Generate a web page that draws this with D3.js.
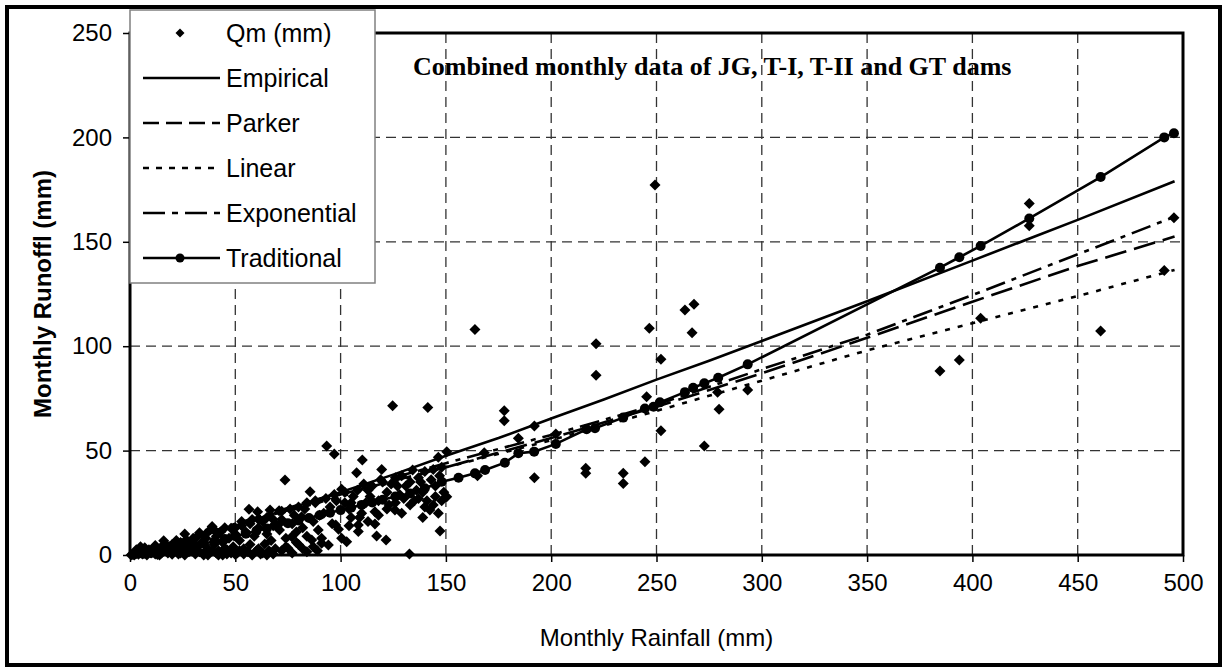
<!DOCTYPE html>
<html>
<head>
<meta charset="utf-8">
<script src="https://cdn.jsdelivr.net/npm/d3@7"></script>
<style>
  body { margin: 0; background: #fff; }
  text { font-family: Arial, "Liberation Sans", sans-serif; fill: #000; }
  .title { font-family: "Times New Roman", "Liberation Serif", serif; font-weight: bold; }
</style>
</head>
<body>
<div id="chart"></div>
<script>
// observed monthly rainfall / runoff pairs (Qm)
var obsRain = [0.5,1,2,3,4,5,6,7,8,9,10,3,5,7,
  11,12,13,14,15,16,17,18,19,20,12,14,
  21,22,23,24,25,26,27,28,29,30,22,
  31,32,33,34,35,36,37,38,39,40,35,
  41,42,43,44,45,46,47,48,49,50,42,
  51,52,53,54,55,56.5,57,58,59,60.6,60,
  61,62,63,64,65,66.5,67,68,69,70.8,65,
  71,72,73.6,74,75,76.8,77,78,79,80,
  81.5,82,83,84,85.5,86.3,87,88,89.4,90,
  91,91,92,93.4,94.2,95,96,97,97.7,98,99,100.5,100.5,
  102.9,104,105,107.6,108.4,108.4,110.3,112,114,116.3,116.3,117.1,119.5,121.6,122,124.7,125.8,127,130,132.7,
  134.2,136,138,140,141.4,142.4,144,146.4,146.4,147.2,148,150.4,150.4,149,
  102,106,110,113,118,120,123,128,131,135,139,143,145,147,
  2,4,6,8,10,13,15,18,20,24,26,29,31,33,37,39,41,44,46,48,50,52,54,56,58,61,63,66,68,72,74,77,79,82,84,87,89,
  12,17,22,27,31,36,41,45,50,53,57,61,65,68,72,76,80,84,88,93,97,102,105,108,111,115,119,124,126,129,133,137,140,144,148,
  104,109,113,118,122,126,129,133,137,141,145,139,
  163.8,168.2,165,177.7,177.7,184.4,192,192,202.2,
  216.4,216.4,221.3,221.3,234.2,234.2,244.5,245.3,246.6,249.3,252.1,252.1,263.5,266.9,267.8,272.7,279,279.7,293.3,
  384.6,393.8,403.9,427,427,460.9,491.1,495.7];
var obsRunoff = [0,0.2,0.5,1,0.3,1.5,2,0.8,1.2,2.5,1,2.5,4,3.5,
  2,0.5,3,1.5,4,6.8,2.5,1,3.5,5,4.5,0,
  2,4,0.5,6,3,10,7,1.5,5,8,7,
  2,4,10.7,6,1,8,3,12,13.6,5,0,
  9,2,11,6,3.2,0.5,8,12.8,4,10,0,
  1,7,14,3,11,21.9,5,17,9,20.7,2,
  13,0.5,16,5.3,10,21.6,7,14,3,21.2,0,
  12,17,35.9,8,3.2,8.8,15,19,11,5,
  18.3,13,22,9,30.3,7.2,16,25,12,19,
  5.6,8,20,52.2,4.8,23,15,48.4,14.4,26,12.3,31.5,8,
  6.4,22,18,39.4,14.4,11.2,45.5,25,28,20.7,14.8,9.1,41,7.2,30,71.5,21.6,33,27,0.5,
  40.7,31,35,23,70.7,21.6,24,46.8,20,11.5,26,49.5,27.9,30,
  25,28,20,31,26,35,24,29,33,26,30,36,33,38,
  0,1,0.5,0,2,0.2,1,2,0.3,1,0,2,0.5,1.5,0,2,1,0,2.5,1,0.2,2,0.5,1.5,0,3,1,2,0.5,2,4,1,6,3,1.5,4,2,
  3,5,5.5,7,8,10,11,13,13,16,15,17,18,17,21,22,23,25,26,27,29,30,25,31,34,33,36,34,37,38,35,37,40,41,42,
  14,18,16,19,22,25,20,24,27,26,28,18,
  108,49,38,69.1,64.3,55.9,61.8,37,58,
  41.5,39.1,101.2,86.1,39.1,34.3,44.7,75.8,108.6,177.2,93.7,59.5,117.3,106.5,120.1,52.2,77.9,69.8,79,
  88.1,93.4,113.4,168.4,157.7,107.3,136.2,161.5];

// fitted model curves
var empRain = [0,25,50,75,100,125,150,175,200,225,250,275,300,350,400,450,496];
var empRunoff = [0,6.5,14,22,30,38.5,47.5,56,65.4,74.5,84,93,102.5,121.5,141,160.5,179];

var parkerRain = [0,25,50,100,150,200,250,300,350,400,450,496];
var parkerRunoff = [0,6,14,29,42,56,71,87,104,121.3,138.4,152.5];

var linearRain = [0,50,100,150,200,250,300,350,400,450,496];
var linearRunoff = [1,14,28,42,55,69,83.5,98,111,124,136.5];

var expRain = [0,25,50,100,150,200,250,300,350,400,450,496];
var expRunoff = [0,6.5,15,30,44,57.5,72,89,105.5,124.5,144,162];

var tradRain = [2,6,10,15,20,25,30,35,40,45,50,55,60,65,70,75,80,85,90,95,100,105,110,115,120,126,133,140,148,156,163.8,168.6,178,184.4,191.9,202.2,216.8,220.8,234.2,244.5,248.6,251.6,263.5,267.4,272.7,279.3,293.3,384.6,393.8,403.9,427,460.9,491.1,495.7];
var tradRunoff = [0.2,0.6,1,1.7,2.5,3.5,4.5,5.5,6.5,7.7,9,10.2,11.5,12.7,14,15.2,16.5,17.7,19,20.2,21.5,22.7,24,25.2,26.5,28,29.5,32,35.1,37,39.1,40.7,44.2,48.7,49.5,53.2,60.2,60.7,65.8,70.2,71,73.1,78,80.1,82.2,84.9,91.3,137.6,142.6,148,161.2,181,200,202];

var xTicks = [0,50,100,150,200,250,300,350,400,450,500];
var yTicks = [0,50,100,150,200,250];

var legendNames = ["Qm (mm)","Empirical","Parker","Linear","Exponential","Traditional"];

var W = 1227, H = 672;
var margin = {top: 33, right: 44, bottom: 117, left: 130};
var width = W - margin.left - margin.right;
var height = H - margin.top - margin.bottom;

var svg = d3.select("#chart").append("svg")
    .attr("width", W)
    .attr("height", H);

svg.append("rect")
    .attr("x", 0).attr("y", 0).attr("width", W).attr("height", H)
    .attr("fill", "#fff");

// outer frame
svg.append("rect")
    .attr("x", 7).attr("y", 7)
    .attr("width", W - 14).attr("height", H - 14)
    .attr("fill", "none")
    .attr("stroke", "#000")
    .attr("stroke-width", 4);

var g = svg.append("g")
    .attr("transform", "translate(" + margin.left + "," + margin.top + ")");

var x = d3.scaleLinear().domain([0, 500]).range([0, width]);
var y = d3.scaleLinear().domain([0, 250]).range([height, 0]);

// gridlines
g.append("g").selectAll("line")
    .data(xTicks.slice(1, -1))
    .enter().append("line")
    .attr("x1", function(d) { return x(d); })
    .attr("x2", function(d) { return x(d); })
    .attr("y1", 0).attr("y2", height)
    .attr("stroke", "#333")
    .attr("stroke-width", 1.3)
    .attr("stroke-dasharray", "10,6");

g.append("g").selectAll("line")
    .data(yTicks.slice(1, -1))
    .enter().append("line")
    .attr("x1", 0).attr("x2", width)
    .attr("y1", function(d) { return y(d); })
    .attr("y2", function(d) { return y(d); })
    .attr("stroke", "#333")
    .attr("stroke-width", 1.3)
    .attr("stroke-dasharray", "10,6");

// axes
var xAxis = g.append("g")
    .attr("transform", "translate(0," + height + ")")
    .call(d3.axisBottom(x).tickValues(xTicks).tickSize(7).tickPadding(12));
var yAxis = g.append("g")
    .call(d3.axisLeft(y).tickValues(yTicks).tickSize(7).tickPadding(11));

[xAxis, yAxis].forEach(function(a) {
  a.select(".domain").remove();
  a.selectAll("line").attr("stroke", "#000").attr("stroke-width", 1.5);
  a.selectAll("text")
    .style("font-family", "Arial, 'Liberation Sans', sans-serif")
    .style("font-size", "24px");
});

// model lines
var line = d3.line()
    .x(function(d) { return x(d[0]); })
    .y(function(d) { return y(d[1]); });

function pairs(xs, ys) { return xs.map(function(v, i) { return [v, ys[i]]; }); }

var series = [
  {data: pairs(empRain, empRunoff), dash: null},
  {data: pairs(parkerRain, parkerRunoff), dash: "22,8"},
  {data: pairs(linearRain, linearRunoff), dash: "5,8"},
  {data: pairs(expRain, expRunoff), dash: "20,7,5,7"},
  {data: pairs(tradRain, tradRunoff), dash: null}
];

// observed points: square diamonds like the spreadsheet marker
function diamondPath(r) {
  return "M0," + (-r) + "L" + r + ",0L0," + r + "L" + (-r) + ",0Z";
}
g.append("g").selectAll("path")
    .data(pairs(obsRain, obsRunoff))
    .enter().append("path")
    .attr("d", diamondPath(5.5))
    .attr("transform", function(d) { return "translate(" + x(d[0]) + "," + y(d[1]) + ")"; })
    .attr("fill", "#000");

series.forEach(function(s) {
  g.append("path")
    .datum(s.data)
    .attr("fill", "none")
    .attr("stroke", "#000")
    .attr("stroke-width", 2.6)
    .attr("stroke-dasharray", s.dash)
    .attr("d", line);
});

g.append("g").selectAll("circle")
    .data(pairs(tradRain, tradRunoff))
    .enter().append("circle")
    .attr("cx", function(d) { return x(d[0]); })
    .attr("cy", function(d) { return y(d[1]); })
    .attr("r", 5)
    .attr("fill", "#000");

// plot border
g.append("rect")
    .attr("width", width).attr("height", height)
    .attr("fill", "none")
    .attr("stroke", "#000")
    .attr("stroke-width", 3);

// axis titles
svg.append("text")
    .attr("x", margin.left + width / 2)
    .attr("y", 646)
    .attr("text-anchor", "middle")
    .style("font-size", "24px")
    .text("Monthly Rainfall (mm)");

svg.append("text")
    .attr("transform", "translate(51," + (margin.top + height / 2) + ") rotate(-90)")
    .attr("text-anchor", "middle")
    .style("font-size", "24px")
    .style("font-weight", "bold")
    .text("Monthly Runoffl (mm)");

svg.append("text")
    .attr("class", "title")
    .attr("x", 413)
    .attr("y", 75)
    .style("font-size", "26px")
    .text("Combined monthly data of JG, T-I, T-II and GT dams");

// legend
var legend = svg.append("g").attr("transform", "translate(130,10)");
legend.append("rect")
    .attr("width", 245).attr("height", 273)
    .attr("fill", "#fff")
    .attr("stroke", "#808080")
    .attr("stroke-width", 1.5);

var legDash = [null, null, "16,7", "6,7", "22,7,6,7", null];
legendNames.forEach(function(name, i) {
  var ly = 23 + i * 45;
  var row = legend.append("g");
  if (i === 0) {
    row.append("path")
      .attr("d", diamondPath(4.5))
      .attr("transform", "translate(50," + ly + ")");
  } else {
    row.append("line")
      .attr("x1", 13).attr("x2", 90)
      .attr("y1", ly).attr("y2", ly)
      .attr("stroke", "#000")
      .attr("stroke-width", 2.6)
      .attr("stroke-dasharray", legDash[i]);
    if (i === 5) {
      row.append("circle").attr("cx", 50).attr("cy", ly).attr("r", 4.5);
    }
  }
  row.append("text")
    .attr("x", 96)
    .attr("y", ly + 9)
    .style("font-size", "25px")
    .text(name);
});
</script>
</body>
</html>
